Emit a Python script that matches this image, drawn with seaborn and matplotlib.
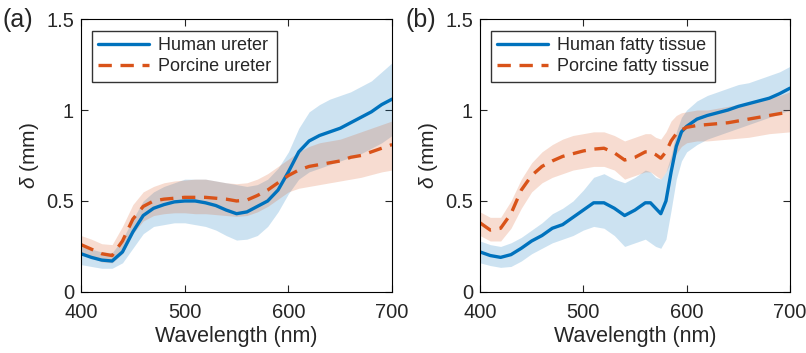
import numpy as np
import seaborn as sns
import matplotlib
matplotlib.use("Agg")
import matplotlib.pyplot as plt

# ---- data ----
wl_a = [400, 410, 420, 430, 440, 450, 460, 470, 480, 490, 500, 510, 520, 530, 540, 550,
        560, 570, 580, 590, 600, 610, 620, 630, 640, 650, 660, 670, 680, 690, 700]

human_ureter = [0.21, 0.19, 0.175, 0.17, 0.22, 0.33, 0.42, 0.46, 0.48, 0.495, 0.50, 0.50, 0.49, 0.475, 0.45, 0.43,
                0.44, 0.47, 0.50, 0.56, 0.66, 0.77, 0.83, 0.86, 0.88, 0.90, 0.93, 0.96, 0.99, 1.03, 1.06]
human_ureter_hi = [0.25, 0.235, 0.22, 0.215, 0.29, 0.40, 0.50, 0.55, 0.58, 0.60, 0.62, 0.62, 0.62, 0.61, 0.60, 0.59,
                   0.58, 0.59, 0.62, 0.68, 0.77, 0.90, 0.99, 1.03, 1.06, 1.08, 1.10, 1.13, 1.16, 1.21, 1.26]
human_ureter_lo = [0.15, 0.14, 0.13, 0.13, 0.16, 0.24, 0.32, 0.36, 0.37, 0.38, 0.38, 0.37, 0.36, 0.34, 0.31, 0.285,
                   0.29, 0.31, 0.36, 0.44, 0.54, 0.62, 0.66, 0.68, 0.70, 0.72, 0.74, 0.76, 0.79, 0.82, 0.86]

porcine_ureter = [0.26, 0.235, 0.21, 0.20, 0.28, 0.40, 0.47, 0.50, 0.51, 0.515, 0.52, 0.52, 0.52, 0.515, 0.51, 0.50,
                  0.505, 0.53, 0.56, 0.60, 0.64, 0.67, 0.69, 0.70, 0.71, 0.72, 0.74, 0.75, 0.77, 0.79, 0.81]
porcine_ureter_hi = [0.31, 0.29, 0.265, 0.26, 0.36, 0.48, 0.55, 0.58, 0.60, 0.61, 0.615, 0.62, 0.62, 0.61, 0.60, 0.595,
                     0.60, 0.62, 0.65, 0.69, 0.73, 0.77, 0.80, 0.82, 0.83, 0.84, 0.86, 0.88, 0.90, 0.92, 0.94]
porcine_ureter_lo = [0.21, 0.19, 0.165, 0.16, 0.21, 0.32, 0.39, 0.42, 0.43, 0.435, 0.435, 0.43, 0.43, 0.425, 0.42, 0.415,
                     0.42, 0.44, 0.47, 0.51, 0.55, 0.57, 0.58, 0.59, 0.60, 0.61, 0.62, 0.63, 0.645, 0.66, 0.67]

wl_b = [400, 410, 420, 430, 440, 450, 460, 470, 480, 490, 500, 510, 520, 530, 540, 550,
        560, 565, 570, 575, 580, 585, 590, 595, 600, 610, 620, 630, 640, 650, 660, 670, 680, 690, 700]

human_fat = [0.22, 0.20, 0.19, 0.205, 0.24, 0.28, 0.31, 0.35, 0.37, 0.41, 0.45, 0.49, 0.49, 0.46, 0.42, 0.45,
             0.49, 0.49, 0.46, 0.43, 0.50, 0.66, 0.80, 0.88, 0.91, 0.95, 0.97, 0.985, 1.00, 1.02, 1.035, 1.05, 1.065, 1.09, 1.12]
human_fat_hi = [0.28, 0.26, 0.25, 0.27, 0.30, 0.34, 0.38, 0.43, 0.46, 0.50, 0.56, 0.63, 0.65, 0.62, 0.60, 0.63,
                0.67, 0.66, 0.63, 0.62, 0.66, 0.75, 0.88, 0.96, 1.00, 1.05, 1.08, 1.10, 1.12, 1.14, 1.15, 1.17, 1.19, 1.21, 1.24]
human_fat_lo = [0.16, 0.145, 0.135, 0.14, 0.17, 0.21, 0.24, 0.27, 0.29, 0.31, 0.34, 0.36, 0.35, 0.31, 0.25, 0.27,
                0.29, 0.27, 0.25, 0.24, 0.29, 0.45, 0.62, 0.72, 0.77, 0.81, 0.84, 0.86, 0.88, 0.90, 0.92, 0.94, 0.96, 0.98, 1.00]

porcine_fat = [0.38, 0.34, 0.35, 0.43, 0.56, 0.64, 0.69, 0.72, 0.745, 0.76, 0.775, 0.785, 0.79, 0.765, 0.725, 0.74,
               0.77, 0.77, 0.755, 0.735, 0.77, 0.83, 0.87, 0.89, 0.905, 0.915, 0.92, 0.925, 0.93, 0.94, 0.95, 0.96, 0.97, 0.98, 0.99]
porcine_fat_hi = [0.44, 0.41, 0.41, 0.50, 0.62, 0.71, 0.77, 0.81, 0.84, 0.86, 0.87, 0.88, 0.88, 0.86, 0.83, 0.85,
                  0.87, 0.87, 0.85, 0.84, 0.88, 0.94, 0.97, 0.985, 0.99, 1.00, 1.00, 1.01, 1.02, 1.03, 1.04, 1.05, 1.07, 1.08, 1.10]
porcine_fat_lo = [0.31, 0.28, 0.28, 0.35, 0.46, 0.55, 0.60, 0.63, 0.65, 0.67, 0.68, 0.69, 0.69, 0.67, 0.62, 0.64,
                  0.66, 0.66, 0.64, 0.62, 0.66, 0.72, 0.76, 0.80, 0.82, 0.83, 0.83, 0.835, 0.84, 0.845, 0.85, 0.86, 0.87, 0.875, 0.88]

yticks = [0, 0.5, 1, 1.5]
ytick_labels = ["0", "0.5", "1", "1.5"]
xticks = [400, 500, 600, 700]

BLUE = "#0072BD"
ORANGE = "#D95319"

sns.set_style("ticks")
plt.rcParams["font.family"] = ["Liberation Sans", "DejaVu Sans"]
plt.rcParams["mathtext.fontset"] = "custom"
plt.rcParams["mathtext.it"] = "Liberation Sans:italic"
plt.rcParams["mathtext.rm"] = "Liberation Sans"

fig = plt.figure(figsize=(8.06, 3.53), dpi=100)
ax_a = fig.add_axes([0.1005, 0.173, 0.386, 0.773])
ax_b = fig.add_axes([0.5955, 0.173, 0.3846, 0.773])

panels = [
    (ax_a, wl_a, human_ureter, human_ureter_lo, human_ureter_hi,
     porcine_ureter, porcine_ureter_lo, porcine_ureter_hi,
     "Human ureter", "Porcine ureter", "(a)", 0.003),
    (ax_b, wl_b, human_fat, human_fat_lo, human_fat_hi,
     porcine_fat, porcine_fat_lo, porcine_fat_hi,
     "Human fatty tissue", "Porcine fatty tissue", "(b)", 0.503),
]

for (ax, wl, h, hlo, hhi, p, plo, phi, hlab, plab, tag, tx) in panels:
    ax.fill_between(wl, hlo, hhi, color=BLUE, alpha=0.2, lw=0)
    ax.fill_between(wl, plo, phi, color=ORANGE, alpha=0.2, lw=0)
    sns.lineplot(x=wl, y=h, ax=ax, color=BLUE, lw=2.4, label=hlab)
    sns.lineplot(x=wl, y=p, ax=ax, color=ORANGE, lw=2.4, linestyle=(0, (4, 2.6)), label=plab)

    ax.set_xlim(400, 700)
    ax.set_ylim(0, 1.5)
    ax.set_xticks(xticks)
    ax.set_yticks(yticks)
    ax.set_yticklabels(ytick_labels)
    ax.tick_params(direction="in", top=True, right=True, length=5, width=0.8,
                   labelsize=14.5)
    ax.tick_params(axis="x", pad=8)
    ax.tick_params(axis="y", pad=5)
    for s in ax.spines.values():
        s.set_linewidth(0.8)
        s.set_color("black")
    ax.set_xlabel("Wavelength (nm)", fontsize=15.5, labelpad=3)
    ax.set_ylabel(r"$\it{\delta}$ (mm)", fontsize=15)

    leg = ax.legend(loc="upper left", bbox_to_anchor=(0.035, 0.958), borderaxespad=0,
                    fontsize=13, frameon=True, fancybox=False, handlelength=2.8,
                    borderpad=0.35, labelspacing=0.25, handletextpad=0.5)
    leg.get_frame().set_edgecolor("black")
    leg.get_frame().set_linewidth(1.0)

    fig.text(tx, 0.943, tag, fontsize=18, va="center", ha="left")

fig.savefig("out.png", dpi=100)
